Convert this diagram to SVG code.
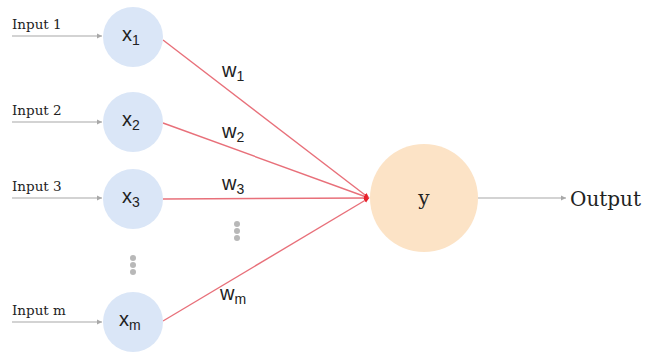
<svg xmlns="http://www.w3.org/2000/svg" width="651" height="355" viewBox="0 0 651 355">
<style>
.in{fill:#dae6f7;}
.out{fill:#fce3c6;}
.lbl{font-family:"DejaVu Serif","Liberation Serif",serif;font-size:13.5px;fill:#222;}
.var{font-family:"Liberation Sans","DejaVu Sans",sans-serif;font-size:20px;fill:#222;}
.sub{font-size:14px;}
.gray{stroke:#a8a8a8;stroke-width:1.2;fill:none;}
.red{stroke:#e8707a;stroke-width:1.4;fill:none;}
.dot{fill:#b8b8b8;}
</style>
<defs>
<marker id="ga" markerWidth="6" markerHeight="6" refX="5" refY="3" orient="auto" markerUnits="userSpaceOnUse"><path d="M0,0.5 L5,3 L0,5.5 z" fill="#a8a8a8"/></marker>
<marker id="ra" markerWidth="6" markerHeight="6" refX="5" refY="3" orient="auto" markerUnits="userSpaceOnUse"><path d="M0,0.5 L5,3 L0,5.5 z" fill="#e8202a"/></marker>
</defs>
<g id="connectors">
<line class="gray" x1="12" y1="36" x2="102" y2="36" marker-end="url(#ga)"/>
<line class="gray" x1="12" y1="122" x2="102" y2="122" marker-end="url(#ga)"/>
<line class="gray" x1="12" y1="198" x2="102" y2="198" marker-end="url(#ga)"/>
<line class="gray" x1="12" y1="322" x2="102" y2="322" marker-end="url(#ga)"/>
<line class="gray" x1="478" y1="198" x2="566" y2="198" marker-end="url(#ga)"/>
<line class="red" x1="163" y1="40" x2="369" y2="198" marker-end="url(#ra)"/>
<line class="red" x1="163" y1="123" x2="369" y2="198" marker-end="url(#ra)"/>
<line class="red" x1="163" y1="199" x2="369" y2="198" marker-end="url(#ra)"/>
<line class="red" x1="163" y1="321" x2="369" y2="198" marker-end="url(#ra)"/>
<text class="var" x="222" y="77">w<tspan class="sub" dy="4">1</tspan></text>
<text class="var" x="222" y="138">w<tspan class="sub" dy="4">2</tspan></text>
<text class="var" x="222" y="190">w<tspan class="sub" dy="4">3</tspan></text>
<text class="var" x="220" y="300">w<tspan class="sub" dy="4">m</tspan></text>
</g>
<g id="labels">
<text class="lbl" x="12" y="29">Input 1</text>
<text class="lbl" x="12" y="115">Input 2</text>
<text class="lbl" x="12" y="191">Input 3</text>
<text class="lbl" x="12" y="315">Input m</text>
</g>
<g id="x1"><circle class="in" cx="133" cy="37" r="30"/><text class="var" x="122" y="41">x<tspan class="sub" dy="4">1</tspan></text></g>
<g id="x2"><circle class="in" cx="133" cy="122" r="30"/><text class="var" x="122" y="126">x<tspan class="sub" dy="4">2</tspan></text></g>
<g id="x3"><circle class="in" cx="133" cy="199" r="30"/><text class="var" x="122" y="203">x<tspan class="sub" dy="4">3</tspan></text></g>
<g id="xm"><circle class="in" cx="133" cy="322" r="30"/><text class="var" x="119" y="326">x<tspan class="sub" dy="4">m</tspan></text></g>
<g id="dots1"><circle class="dot" cx="133" cy="258" r="3"/><circle class="dot" cx="133" cy="265" r="3"/><circle class="dot" cx="133" cy="272" r="3"/></g>
<g id="dots2"><circle class="dot" cx="237" cy="224" r="3"/><circle class="dot" cx="237" cy="231" r="3"/><circle class="dot" cx="237" cy="238" r="3"/></g>
<g id="y"><circle class="out" cx="424" cy="198" r="54"/><text x="424" y="205" text-anchor="middle" style="font-family:'DejaVu Serif','Liberation Serif',serif;font-size:20px;fill:#222">y</text></g>
<g id="output"><text x="570" y="206" style="font-family:'DejaVu Serif','Liberation Serif',serif;font-size:20px;fill:#222">Output</text></g>
</svg>
